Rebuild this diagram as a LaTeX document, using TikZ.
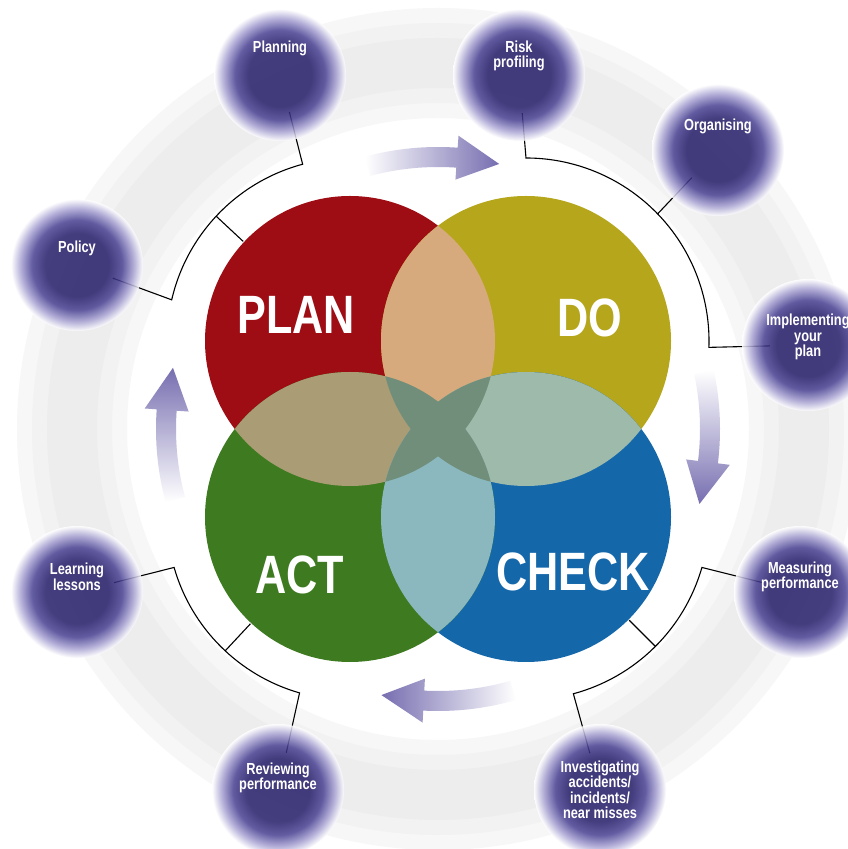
\documentclass[tikz,border=0pt]{standalone}
\usepackage{fontspec}
\newfontfamily\pdcafont[FakeStretch=0.8]{Liberation Sans}
\usepackage{tikz}
\usetikzlibrary{calc}

\definecolor{plancol}{RGB}{158,12,20}
\definecolor{docol}{RGB}{181,166,28}
\definecolor{checkcol}{RGB}{20,104,170}
\definecolor{actcol}{RGB}{62,122,32}
\definecolor{pdlap}{RGB}{214,170,124}
\definecolor{palap}{RGB}{170,156,116}
\definecolor{dclap}{RGB}{158,186,170}
\definecolor{aclap}{RGB}{138,184,190}
\definecolor{midlap}{RGB}{112,142,122}
\definecolor{satdark}{RGB}{36,28,104}
\definecolor{satmid}{RGB}{72,64,146}
\definecolor{satlight}{RGB}{170,165,212}
\definecolor{arrowc}{RGB}{118,110,176}

\pgfdeclareradialshading{satshade}{\pgfpoint{0bp}{0bp}}{color(0bp)=(satdark); color(12bp)=(satdark); color(17bp)=(satmid); color(21.5bp)=(satlight); color(25bp)=(white); color(50bp)=(white)}

\pgfdeclarelayer{back}
\pgfdeclarelayer{wires}
\pgfsetlayers{back,wires,main}

% curved arrow along the ring: #1 centre angle, #2 shading
\newcommand{\flowarrow}[2]{%
\shade[#2] ($(hub)+(#1+13:282)$) arc[start angle=#1+13, end angle=#1-6, radius=282]
  -- ($(hub)+(#1-6:294)$) -- ($(hub)+(#1-15:272)$) -- ($(hub)+(#1-6:250)$)
  -- ($(hub)+(#1-6:262)$) arc[start angle=#1-6, end angle=#1+13, radius=262] -- cycle;}

\begin{document}
\begin{tikzpicture}[x=1pt,y=1pt,
  sat/.style={circle,minimum size=132,inner sep=0pt,shade,shading=satshade,fill opacity=0.85},
  sattext/.style={text=white,align=center,font=\pdcafont\bfseries\fontsize{16}{15.5}\selectfont},
  bigtext/.style={text=white,font=\pdcafont\bfseries\fontsize{54}{54}\selectfont},
  bracket/.style={black,line width=1.1pt,shorten <=-28,shorten >=-28}]
\useasboundingbox (0,0) rectangle (848,849);

\coordinate (hub) at (438,420);
\coordinate (plan) at (350,508);
\coordinate (do) at (526,508);
\coordinate (act) at (350,332);
\coordinate (check) at (526,332);

\begin{pgfonlayer}{back}
\fill[white] (0,0) rectangle (848,849);
% outer ring
\draw[black!3,line width=110] (hub) circle (366);
\draw[black!5,line width=80] (hub) circle (366);
\draw[black!7,line width=50] (hub) circle (366);

% four circles
\fill[plancol] (plan) circle (145);
\fill[docol] (do) circle (145);
\fill[checkcol] (check) circle (145);
\fill[actcol] (act) circle (145);
\begin{scope}\clip (plan) circle (145); \fill[pdlap] (do) circle (145); \fill[palap] (act) circle (145); \end{scope}
\begin{scope}\clip (check) circle (145); \fill[dclap] (do) circle (145); \fill[aclap] (act) circle (145); \end{scope}
\begin{scope}\clip (plan) circle (145); \fill[midlap] (check) circle (145); \end{scope}
\begin{scope}\clip (do) circle (145); \fill[midlap] (act) circle (145); \end{scope}

% arrows
\flowarrow{92}{left color=white,right color=arrowc}
\flowarrow{-1}{top color=white,bottom color=arrowc}
\flowarrow{-87}{right color=white,left color=arrowc}
\flowarrow{182}{bottom color=white,top color=arrowc}
\end{pgfonlayer}

\node[bigtext] (plan-t) at (296,534) {PLAN};
\node[bigtext] (do-t) at (590,531) {DO};
\node[bigtext] (act-t) at (300,274) {ACT};
\node[bigtext] (check-t) at (573,277) {CHECK};

% satellites
\node[sat] (planning) at (280,774) {};
\node[sat] (risk) at (519,774) {};
\node[sat] (organising) at (718,699) {};
\node[sat] (implementing) at (808,504) {};
\node[sat] (measuring) at (800,257) {};
\node[sat] (investigating) at (600,59) {};
\node[sat] (reviewing) at (278,59) {};
\node[sat] (learning) at (77,257) {};
\node[sat] (policy) at (77,584) {};

\node[sattext] (planning-t) at ([yshift=27]planning.center) {Planning};
\node[sattext] (risk-t) at ([yshift=19]risk.center) {Risk\\profiling};
\node[sattext] (organising-t) at ([yshift=24]organising.center) {Organising};
\node[sattext] (implementing-t) at ([yshift=8]implementing.center) {Implementing\\your\\plan};
\node[sattext] (measuring-t) at ([yshift=15]measuring.center) {Measuring\\performance};
\node[sattext] (investigating-t) at ([yshift=0]investigating.center) {Investigating\\accidents/\\incidents/\\near misses};
\node[sattext] (reviewing-t) at ([yshift=12]reviewing.center) {Reviewing\\performance};
\node[sattext] (learning-t) at ([yshift=15]learning.center) {Learning\\lessons};
\node[sattext] (policy-t) at ([yshift=17]policy.center) {Policy};

\begin{pgfonlayer}{wires}
\draw[bracket] (policy) -- ($(plan)+(167:183)$) arc[start angle=167,end angle=105,radius=183] -- (planning);
\draw[bracket,shorten <=0pt,shorten >=0pt] ($(plan)+(137:183)$) -- ($(plan)+(137:146)$);
\draw[bracket] (risk) -- ($(do)+(90:183)$) arc[start angle=90,end angle=-2,radius=183] -- (implementing);
\draw[bracket,shorten <=0pt] ($(do)+(44:183)$) -- (organising);
\draw[bracket] (measuring) -- ($(check)+(-16:183)$) arc[start angle=-16,end angle=-75,radius=183] -- (investigating);
\draw[bracket,shorten <=0pt,shorten >=0pt] ($(check)+(-45:183)$) -- ($(check)+(-45:146)$);
\draw[bracket] (learning) -- ($(act)+(196:183)$) arc[start angle=196,end angle=254,radius=183] -- (reviewing);
\draw[bracket,shorten <=0pt,shorten >=0pt] ($(act)+(227:183)$) -- ($(act)+(227:146)$);
\end{pgfonlayer}
\end{tikzpicture}
\end{document}
